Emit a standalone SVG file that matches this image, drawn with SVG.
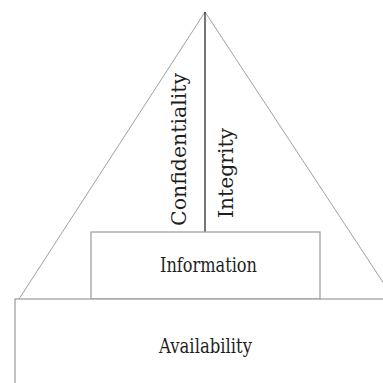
<svg xmlns="http://www.w3.org/2000/svg" width="383" height="383" viewBox="0 0 383 383">
  <style>
    .edge { fill: none; stroke: #a0a0a0; stroke-width: 1; }
    .box { fill: #ffffff; stroke: #9a9a9a; stroke-width: 1.2; }
    .divider { stroke: #1a1a1a; stroke-width: 1.2; }
    .label { font-family: "DejaVu Serif", "Liberation Serif", serif; fill: #1e1e1e; }
  </style>
  <rect width="383" height="383" fill="#ffffff"/>

  <!-- outer triangle sides -->
  <g id="connectors">
    <polyline class="edge" points="19,299 205,12 394,299"/>
  </g>

  <!-- apex divider with the two vertical labels -->
  <g id="confidentiality">
    <text class="label" font-size="20" transform="translate(186,226) rotate(-90)" textLength="153" lengthAdjust="spacingAndGlyphs">Confidentiality</text>
  </g>
  <g id="integrity">
    <text class="label" font-size="20" transform="translate(233,218) rotate(-90)" textLength="90" lengthAdjust="spacingAndGlyphs">Integrity</text>
  </g>
  <g id="divider">
    <line class="divider" x1="205" y1="12" x2="205" y2="232"/>
  </g>

  <!-- middle block -->
  <g id="information">
    <rect class="box" x="91" y="232" width="229" height="67"/>
    <text class="label" x="160" y="272" font-size="20" textLength="97" lengthAdjust="spacingAndGlyphs">Information</text>
  </g>

  <!-- base block -->
  <g id="availability">
    <rect class="box" x="15" y="299" width="400" height="100"/>
    <text class="label" x="159" y="353" font-size="20" textLength="93" lengthAdjust="spacingAndGlyphs">Availability</text>
  </g>
</svg>
